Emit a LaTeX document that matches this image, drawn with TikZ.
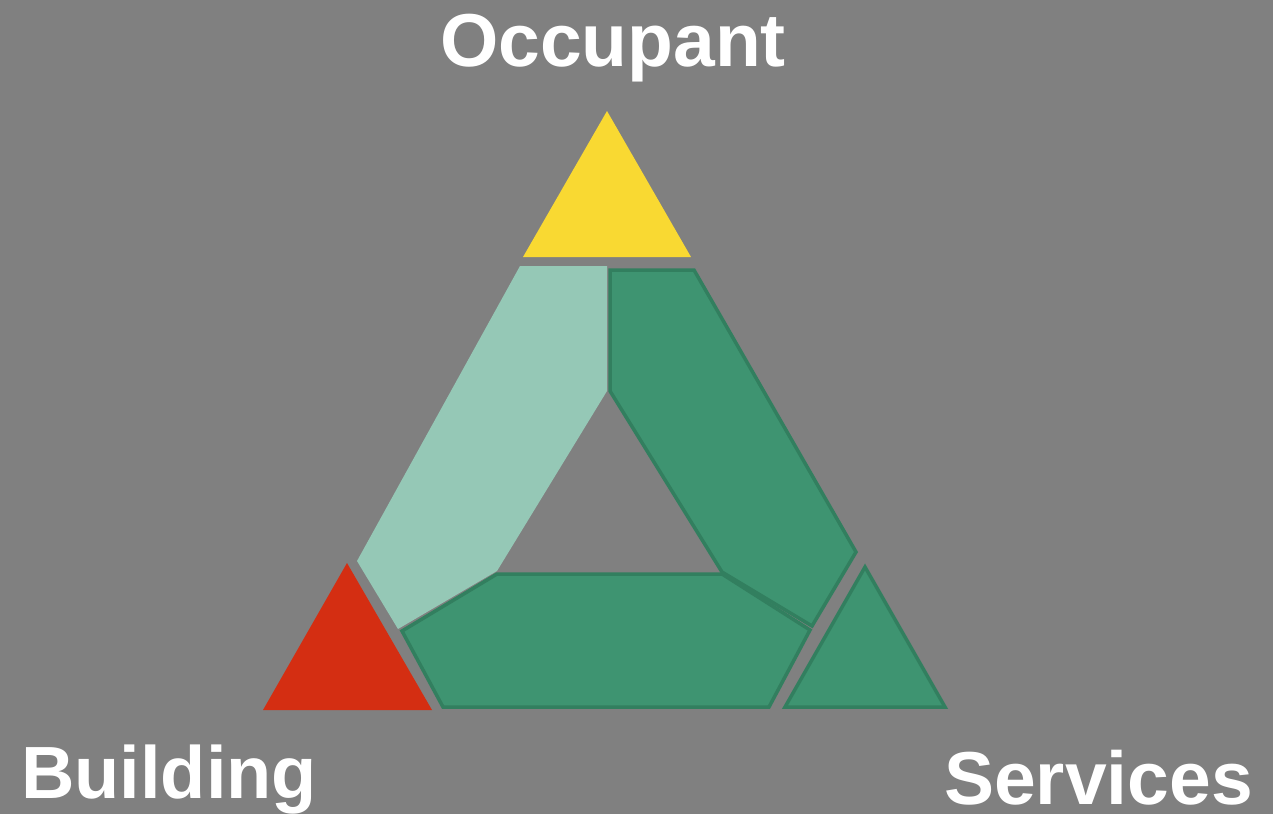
\documentclass[tikz,border=0pt]{standalone}
\usepackage{fontspec}
\setmainfont{Liberation Sans}
\begin{document}
\begin{tikzpicture}[x=1pt,y=-1pt,
  lbl/.style={text=white,font=\fontsize{75}{80}\selectfont\bfseries,inner sep=0pt},
  dark/.style={fill=dgreen,draw=dline,line width=3.5pt,line join=miter},
  light/.style={fill=lgreen},
]
\definecolor{bg}{HTML}{808080}
\definecolor{dgreen}{HTML}{3E9471}
\definecolor{dline}{HTML}{327F5F}
\definecolor{lgreen}{HTML}{95C8B6}
\definecolor{yel}{HTML}{F9D932}
\definecolor{redc}{HTML}{D42E12}
\fill[bg] (0,0) rectangle (1273,814);
\useasboundingbox (0,0) rectangle (1273,814);
% yellow triangle
\fill[yel] (607,111) -- (691,257) -- (523,257) -- cycle;
% light green left
\fill[light] (520,266) -- (607,266) -- (607,391) -- (497,571) -- (398,629) -- (357,561) -- cycle;
% right dark green
\draw[dark] (610,270) -- (694,270) -- (856,552) -- (812,626) -- (722,572) -- (610,391) -- cycle;
% bottom dark green
\draw[dark] (402,631) -- (497,574) -- (722,574) -- (810,630) -- (769,707) -- (443,707) -- cycle;
% services triangle
\draw[dark] (865,567) -- (945,707) -- (785,707) -- cycle;
% red triangle
\fill[redc] (347,563) -- (432,710) -- (263,710) -- cycle;
% labels
\node[lbl,anchor=base] (occ) at (613,66) {Occupant};
\node[lbl,anchor=base west,font=\fontsize{74}{80}\selectfont\bfseries] (bld) at (21,798) {Building};
\node[lbl,anchor=base east] (srv) at (1253,804) {Services};
\end{tikzpicture}
\end{document}
